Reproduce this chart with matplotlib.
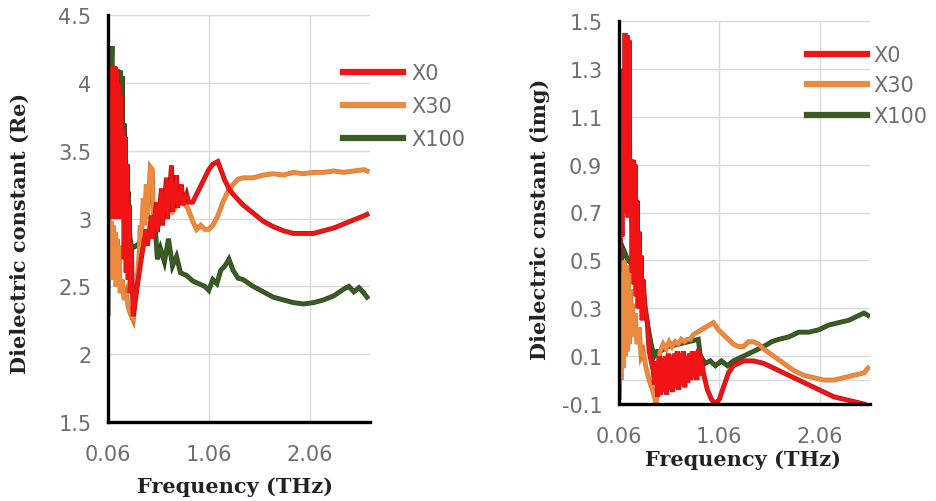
import matplotlib
matplotlib.use('Agg')
import matplotlib.pyplot as plt
import matplotlib.patheffects as pe

# real part of the dielectric constant
re_freq_x0 = [0.06, 0.07, 0.08, 0.09, 0.10, 0.11, 0.12, 0.13, 0.14, 0.15, 0.16, 0.17, 0.18, 0.19,
              0.20, 0.21, 0.22, 0.23, 0.24, 0.25, 0.26, 0.27, 0.28, 0.29, 0.31, 0.34, 0.37, 0.40,
              0.44, 0.45, 0.49, 0.50, 0.54, 0.55, 0.59, 0.60, 0.64, 0.65, 0.69, 0.70, 0.74, 0.75,
              0.79, 0.80, 0.84, 0.86, 0.90, 0.94, 0.98, 1.02, 1.06, 1.10, 1.15, 1.18, 1.22, 1.26,
              1.30, 1.40, 1.50, 1.60, 1.70, 1.80, 1.90, 2.00, 2.10, 2.20, 2.30, 2.40, 2.50, 2.60,
              2.63]
re_x0 = [3.30, 3.90, 3.10, 4.12, 3.00, 4.10, 3.05, 4.12, 3.00, 4.10, 3.10, 4.00, 3.00, 3.90,
         3.10, 3.66, 2.70, 3.60, 2.60, 3.40, 2.55, 3.10, 2.45, 2.80, 2.28, 2.45, 2.60, 2.75,
         2.92, 2.80, 3.02, 2.85, 3.12, 2.90, 3.22, 2.95, 3.30, 3.00, 3.39, 3.05, 3.32, 3.08,
         3.25, 3.10, 3.18, 3.12, 3.12, 3.18, 3.24, 3.30, 3.36, 3.40, 3.42, 3.36, 3.28, 3.22,
         3.18, 3.10, 3.04, 2.98, 2.94, 2.91, 2.89, 2.89, 2.89, 2.91, 2.93, 2.96, 2.99, 3.02,
         3.03]

re_freq_x30 = [0.06, 0.07, 0.08, 0.09, 0.10, 0.11, 0.12, 0.13, 0.14, 0.15, 0.16, 0.17, 0.18, 0.20,
               0.22, 0.24, 0.26, 0.28, 0.31, 0.34, 0.37, 0.38, 0.39, 0.41, 0.42, 0.44, 0.45, 0.48,
               0.50, 0.51, 0.53, 0.56, 0.60, 0.65, 0.70, 0.75, 0.80, 0.85, 0.90, 0.94, 0.98, 1.02,
               1.06, 1.10, 1.15, 1.20, 1.25, 1.30, 1.35, 1.40, 1.50, 1.60, 1.70, 1.80, 1.90, 2.00,
               2.10, 2.20, 2.30, 2.40, 2.50, 2.60, 2.63]
re_x30 = [2.60, 3.00, 2.55, 2.98, 2.55, 2.95, 2.55, 2.90, 2.50, 2.85, 2.50, 2.80, 2.45, 2.55,
          2.40, 2.45, 2.35, 2.30, 2.25, 2.45, 2.75, 2.95, 2.85, 3.15, 2.95, 3.25, 3.00, 3.38,
          3.36, 3.00, 3.05, 3.05, 3.00, 3.10, 3.05, 3.10, 3.12, 3.08, 2.98, 2.92, 2.95, 2.92,
          2.92, 2.95, 3.02, 3.12, 3.20, 3.25, 3.29, 3.30, 3.30, 3.32, 3.33, 3.32, 3.34, 3.33,
          3.34, 3.34, 3.35, 3.34, 3.35, 3.36, 3.35]

re_freq_x100 = [0.06, 0.07, 0.08, 0.09, 0.10, 0.11, 0.12, 0.13, 0.14, 0.15, 0.16, 0.17, 0.18, 0.19,
                0.20, 0.21, 0.22, 0.23, 0.24, 0.25, 0.26, 0.27, 0.28, 0.30, 0.34, 0.38, 0.42, 0.46,
                0.50, 0.53, 0.55, 0.58, 0.62, 0.66, 0.70, 0.74, 0.78, 0.84, 0.90, 0.96, 1.02, 1.06,
                1.10, 1.14, 1.18, 1.22, 1.26, 1.30, 1.35, 1.40, 1.50, 1.60, 1.70, 1.80, 1.90, 2.00,
                2.10, 2.20, 2.30, 2.40, 2.45, 2.50, 2.55, 2.60, 2.63]
re_x100 = [2.30, 3.30, 3.00, 4.00, 4.27, 3.60, 4.10, 3.50, 4.00, 3.40, 4.09, 3.40, 4.09, 3.30,
           4.05, 3.30, 3.70, 3.24, 3.40, 3.10, 3.20, 2.95, 2.85, 2.78, 2.80, 2.82, 2.85, 2.88,
           2.90, 2.92, 2.70, 2.78, 2.68, 2.85, 2.65, 2.72, 2.60, 2.58, 2.54, 2.52, 2.50, 2.47,
           2.55, 2.52, 2.62, 2.65, 2.70, 2.62, 2.56, 2.55, 2.50, 2.46, 2.42, 2.40, 2.38, 2.37,
           2.38, 2.40, 2.43, 2.48, 2.50, 2.46, 2.49, 2.45, 2.42]

# imaginary part
im_freq_x0 = [0.06, 0.07, 0.08, 0.09, 0.10, 0.11, 0.12, 0.13, 0.14, 0.15, 0.16, 0.17, 0.18, 0.19,
              0.20, 0.21, 0.22, 0.23, 0.24, 0.25, 0.26, 0.27, 0.28, 0.29, 0.30, 0.32, 0.34, 0.36,
              0.38, 0.40, 0.415, 0.43, 0.445, 0.46, 0.475, 0.49, 0.505, 0.52, 0.535, 0.55, 0.565,
              0.58, 0.595, 0.61, 0.625, 0.64, 0.655, 0.67, 0.685, 0.70, 0.715, 0.73, 0.745, 0.76,
              0.775, 0.79, 0.805, 0.82, 0.835, 0.85, 0.865, 0.88, 0.90, 0.94, 0.98, 1.02, 1.06,
              1.10, 1.15, 1.20, 1.30, 1.40, 1.50, 1.60, 1.70, 1.80, 1.90, 2.00, 2.10, 2.20, 2.30,
              2.40, 2.50]
im_x0 = [0.94, 0.50, 1.10, 0.60, 1.30, 0.70, 1.45, 0.70, 1.44, 0.68, 1.42, 0.70, 0.92, 0.45,
         0.92, 0.40, 0.90, 0.35, 0.75, 0.30, 0.62, 0.30, 0.52, 0.25, 0.42, 0.30, 0.25, 0.12,
         0.08, 0.04, -0.02, 0.08, -0.07, 0.10, -0.06, 0.09, -0.05, 0.10, -0.06, 0.11, -0.04,
         0.10, -0.05, 0.11, -0.03, 0.12, -0.04, 0.11, -0.02, 0.12, -0.03, 0.10, -0.01, 0.11,
         0.00, 0.12, 0.01, 0.12, 0.00, 0.13, 0.02, 0.10, 0.03, -0.04, -0.08, -0.10, -0.08,
         -0.03, 0.03, 0.06, 0.08, 0.08, 0.07, 0.05, 0.03, 0.01, -0.01, -0.03, -0.05, -0.07, -0.08,
         -0.09, -0.10]

im_freq_x30 = [0.06, 0.065, 0.07, 0.08, 0.09, 0.10, 0.11, 0.12, 0.13, 0.14, 0.15, 0.16, 0.17, 0.18,
               0.19, 0.20, 0.22, 0.24, 0.26, 0.28, 0.30, 0.33, 0.36, 0.40, 0.43, 0.45, 0.47, 0.50,
               0.53, 0.56, 0.59, 0.62, 0.65, 0.68, 0.71, 0.74, 0.77, 0.80, 0.84, 0.88, 0.92, 0.96,
               1.00, 1.05, 1.10, 1.15, 1.20, 1.25, 1.30, 1.35, 1.40, 1.45, 1.50, 1.60, 1.70, 1.80,
               1.90, 2.00, 2.10, 2.20, 2.30, 2.40, 2.50, 2.54]
im_x30 = [0.20, -0.08, 0.30, 0.00, 0.45, 0.05, 0.50, 0.10, 0.48, 0.12, 0.45, 0.15, 0.38, 0.20,
          0.32, 0.18, 0.28, 0.15, 0.22, 0.10, 0.12, 0.05, 0.00, -0.05, -0.10, 0.05, 0.12, 0.15,
          0.13, 0.16, 0.14, 0.16, 0.15, 0.17, 0.16, 0.17, 0.17, 0.19, 0.20, 0.21, 0.22, 0.23,
          0.24, 0.21, 0.19, 0.17, 0.15, 0.14, 0.14, 0.16, 0.16, 0.15, 0.13, 0.10, 0.07, 0.04,
          0.02, 0.01, 0.00, 0.00, 0.01, 0.02, 0.03, 0.05]

im_freq_x100 = [0.06, 0.07, 0.10, 0.15, 0.20, 0.25, 0.29, 0.32, 0.35, 0.38, 0.41, 0.44, 0.47, 0.55,
                0.65, 0.75, 0.85, 0.87, 0.92, 0.97, 1.02, 1.08, 1.14, 1.20, 1.30, 1.40, 1.50, 1.58,
                1.65, 1.75, 1.85, 1.95, 2.05, 2.15, 2.25, 2.35, 2.45, 2.50, 2.54]
im_x100 = [0.70, 0.45, 0.55, 0.50, 0.48, 0.45, 0.42, 0.30, 0.22, 0.15, 0.10, 0.12, 0.12, 0.14,
           0.15, 0.16, 0.17, 0.10, 0.07, 0.08, 0.06, 0.08, 0.06, 0.08, 0.10, 0.12, 0.14, 0.16,
           0.17, 0.18, 0.20, 0.20, 0.21, 0.23, 0.24, 0.25, 0.27, 0.28, 0.27]

labels = ['X0', 'X30', 'X100']
x_ticks = [0.06, 1.06, 2.06]
x_tick_labels = ['0.06', '1.06', '2.06']
re_ticks = [1.5, 2, 2.5, 3, 3.5, 4, 4.5]
re_tick_labels = ['1.5', '2', '2.5', '3', '3.5', '4', '4.5']
im_ticks = [-0.1, 0.1, 0.3, 0.5, 0.7, 0.9, 1.1, 1.3, 1.5]
im_tick_labels = ['-0.1', '0.1', '0.3', '0.5', '0.7', '0.9', '1.1', '1.3', '1.5']

face_colors = ['#F01414', '#EC8A40', '#3C5C26']
edge_colors = ['#B81419', '#D97A34', '#2E481D']
tick_gray = '#6E6E6E'

fig = plt.figure(figsize=(9.37, 5.02), dpi=100)
W, H = 937, 502


def add_axes(left, top, right, bottom):
    return fig.add_axes([left / W, 1 - bottom / H, (right - left) / W, (bottom - top) / H])


def style_axes(ax, yticks, ytick_labels, ylim, xlim):
    ax.set_xlim(*xlim)
    ax.set_ylim(*ylim)
    ax.set_xticks(x_ticks)
    ax.set_xticklabels(x_tick_labels)
    ax.set_yticks(yticks)
    ax.set_yticklabels(ytick_labels)
    ax.grid(True, color='#D9D9D9', linewidth=1.0)
    ax.set_axisbelow(True)
    for side in ['top', 'right']:
        ax.spines[side].set_visible(False)
    for side in ['left', 'bottom']:
        ax.spines[side].set_color('black')
        ax.spines[side].set_linewidth(2.4)
        ax.spines[side].set_zorder(5)
    ax.tick_params(axis='both', length=0, labelsize=15, labelcolor=tick_gray)
    ax.tick_params(axis='y', pad=12)
    ax.tick_params(axis='x', pad=16)


def draw_series(ax, xs, ys, i):
    line, = ax.plot(xs, ys, color=face_colors[i], linewidth=2.4, label=labels[i],
                    solid_joinstyle='miter', zorder=3 - i)
    line.set_path_effects([pe.Stroke(linewidth=3.5, foreground=edge_colors[i]), pe.Normal()])
    return line


def add_legend(ax, handles, x0, y0, textpad, spacing):
    leg = ax.legend(handles=handles, loc='upper left', bbox_to_anchor=(x0 / W, 1 - y0 / H),
                    bbox_transform=fig.transFigure, frameon=False, fontsize=15,
                    handlelength=2.9, handletextpad=textpad, labelspacing=spacing,
                    borderpad=0, borderaxespad=0)
    for t in leg.get_texts():
        t.set_color(tick_gray)
    for lh in leg.get_lines():
        lh.set_linewidth(4.5)
        lh.set_path_effects([])
    leg.set_zorder(10)
    return leg


# left panel: real part
ax1 = add_axes(108, 16, 370, 423)
style_axes(ax1, re_ticks, re_tick_labels, (1.5, 4.5), (0.06, 2.66))
h1 = [draw_series(ax1, re_freq_x0, re_x0, 0),
      draw_series(ax1, re_freq_x30, re_x30, 1),
      draw_series(ax1, re_freq_x100, re_x100, 2)]
add_legend(ax1, h1, 343, 64, 0.4, 0.62)

# right panel: imaginary part
ax2 = add_axes(619, 22, 870, 405)
style_axes(ax2, im_ticks, im_tick_labels, (-0.1, 1.5), (0.06, 2.56))
ax2.axhline(0, color='#D9D9D9', linewidth=1.0, zorder=0)
h2 = [draw_series(ax2, im_freq_x0, im_x0, 0),
      draw_series(ax2, im_freq_x30, im_x30, 1),
      draw_series(ax2, im_freq_x100, im_x100, 2)]
add_legend(ax2, h2, 807, 46, 0.3, 0.5)

# axis titles
label_font = dict(family='DejaVu Serif', fontweight='bold', fontsize=15, color='#222222')
fig.text(235 / W, 1 - 487 / H, 'Frequency (THz)', ha='center', va='center', **label_font)
fig.text(20 / W, 1 - 233 / H, 'Dielectric constant (Re)', ha='center', va='center',
         rotation=90, **label_font)
fig.text(743 / W, 1 - 460 / H, 'Frequency (THz)', ha='center', va='center', **label_font)
fig.text(540 / W, 1 - 219 / H, 'Dielectric cnstant (img)', ha='center', va='center',
         rotation=90, **label_font)

fig.savefig('out.png', dpi=100)
